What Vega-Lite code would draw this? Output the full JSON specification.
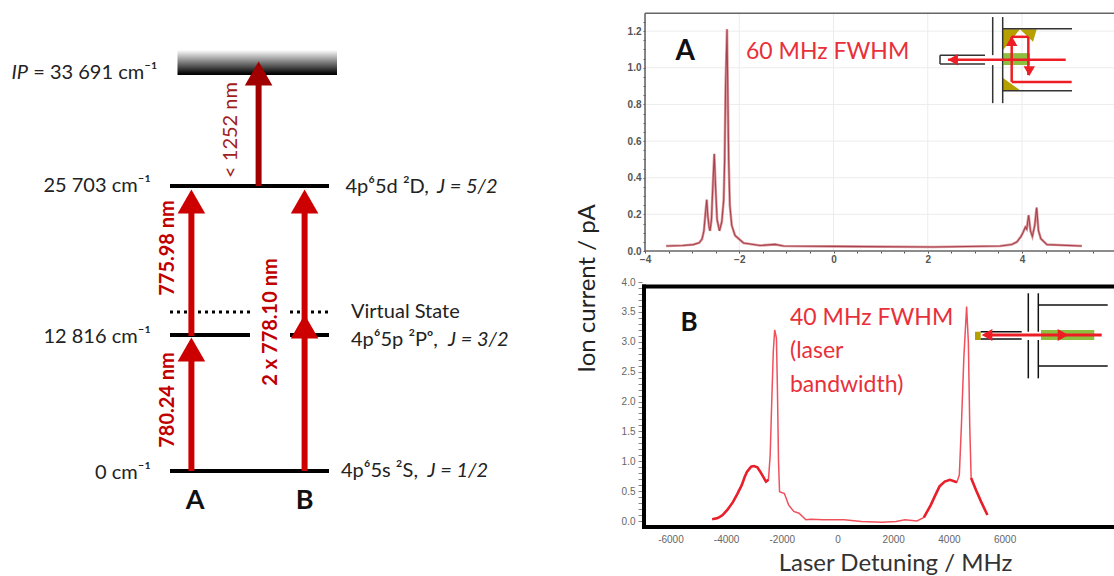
{"$schema":"https://vega.github.io/schema/vega-lite/v6.json","padding":0,"background":"white","bounds":"flush","spacing":0,"config":{"view":{"stroke":null},"text":{"font":"Lato"},"axis":{"labelFont":"Liberation Sans","titleFont":"Lato"}},
"datasets":{
"specA":[{"x":-3.55,"y":0.027},{"x":-3.2,"y":0.03},{"x":-2.97,"y":0.035},{"x":-2.85,"y":0.045},{"x":-2.79,"y":0.065},{"x":-2.75,"y":0.11},{"x":-2.72,"y":0.2},{"x":-2.69,"y":0.28},{"x":-2.67,"y":0.2},{"x":-2.64,"y":0.13},{"x":-2.62,"y":0.11},{"x":-2.59,"y":0.17},{"x":-2.56,"y":0.36},{"x":-2.53,"y":0.53},{"x":-2.5,"y":0.33},{"x":-2.47,"y":0.17},{"x":-2.42,"y":0.11},{"x":-2.37,"y":0.16},{"x":-2.33,"y":0.28},{"x":-2.31,"y":0.5},{"x":-2.29,"y":0.9},{"x":-2.26,"y":1.21},{"x":-2.245,"y":0.9},{"x":-2.225,"y":0.5},{"x":-2.2,"y":0.25},{"x":-2.16,"y":0.14},{"x":-2.09,"y":0.085},{"x":-1.91,"y":0.044},{"x":-1.56,"y":0.03},{"x":-1.24,"y":0.036},{"x":-1.06,"y":0.027},{"x":0,"y":0.025},{"x":2.12,"y":0.022},{"x":3.54,"y":0.027},{"x":3.78,"y":0.035},{"x":3.89,"y":0.049},{"x":3.98,"y":0.08},{"x":4.02,"y":0.1},{"x":4.07,"y":0.13},{"x":4.1,"y":0.12},{"x":4.14,"y":0.195},{"x":4.18,"y":0.11},{"x":4.22,"y":0.08},{"x":4.27,"y":0.14},{"x":4.31,"y":0.237},{"x":4.35,"y":0.11},{"x":4.4,"y":0.067},{"x":4.53,"y":0.035},{"x":5.27,"y":0.027}],
"specB":[{"x":-4498,"y":0.03,"w":"a"},{"x":-4300,"y":0.05,"w":"a"},{"x":-4125,"y":0.1,"w":"a"},{"x":-3950,"y":0.19,"w":"a"},{"x":-3751,"y":0.32,"w":"a"},{"x":-3600,"y":0.45,"w":"a"},{"x":-3439,"y":0.6,"w":"a"},{"x":-3330,"y":0.74,"w":"a"},{"x":-3252,"y":0.82,"w":"a"},{"x":-3103,"y":0.91,"w":"a"},{"x":-3000,"y":0.92,"w":"a"},{"x":-2878,"y":0.9,"w":"a"},{"x":-2780,"y":0.83,"w":"a"},{"x":-2692,"y":0.76,"w":"a"},{"x":-2567,"y":0.66,"w":"a"},{"x":-2480,"y":0.69,"w":"a"},{"x":-2417,"y":1.1},{"x":-2368,"y":1.89},{"x":-2305,"y":2.84},{"x":-2255,"y":3.2},{"x":-2193,"y":3.06},{"x":-2156,"y":2.17},{"x":-2118,"y":1.0},{"x":-2081,"y":0.49},{"x":-1907,"y":0.46},{"x":-1757,"y":0.27},{"x":-1570,"y":0.16},{"x":-1383,"y":0.13},{"x":-1134,"y":0.02},{"x":-947,"y":0.03},{"x":-511,"y":0.02},{"x":237,"y":0.02},{"x":860,"y":-0.01},{"x":1607,"y":-0.02},{"x":2106,"y":-0.01},{"x":2417,"y":0.02},{"x":2854,"y":0},{"x":3103,"y":0.06,"w":"b"},{"x":3352,"y":0.27,"w":"b"},{"x":3500,"y":0.42,"w":"b"},{"x":3664,"y":0.58,"w":"b"},{"x":3850,"y":0.66,"w":"b"},{"x":4037,"y":0.69,"w":"b"},{"x":4287,"y":0.65,"w":"b"},{"x":4374,"y":0.77},{"x":4449,"y":1.6},{"x":4536,"y":2.73},{"x":4636,"y":3.59},{"x":4698,"y":3.0},{"x":4748,"y":1.6},{"x":4798,"y":0.72,"w":"c"},{"x":4972,"y":0.52,"w":"c"},{"x":5159,"y":0.32,"w":"c"},{"x":5383,"y":0.1,"w":"c"}]
},
"hconcat":[
{"width":642,"height":576,
"encoding":{"x":{"field":"x","type":"quantitative","scale":{"domain":[0,642]},"axis":null},"y":{"field":"y","type":"quantitative","scale":{"domain":[576,0]},"axis":null}},
"layer":[
{"data":{"values":[{"x":177.5,"x2":337,"y":50,"y2":75}]},"mark":{"type":"rect","color":{"x1":0,"y1":0,"x2":0,"y2":1,"gradient":"linear","stops":[{"offset":0,"color":"#ffffff"},{"offset":0.9,"color":"#111111"},{"offset":1,"color":"#000000"}]}},"encoding":{"x2":{"field":"x2"},"y2":{"field":"y2"}}},
{"data":{"values":[{"x":170,"x2":329,"y":186,"y2":186},{"x":170,"x2":250,"y":335,"y2":335},{"x":290,"x2":329,"y":335,"y2":335},{"x":170,"x2":329,"y":471,"y2":471}]},"mark":{"type":"rule","color":"#000000","strokeWidth":4},"encoding":{"x2":{"field":"x2"},"y2":{"field":"y2"}}},
{"data":{"values":[{"x":170,"x2":250,"y":312,"y2":312},{"x":290,"x2":329,"y":312,"y2":312}]},"mark":{"type":"rule","color":"#000000","strokeWidth":3,"strokeDash":[3,4]},"encoding":{"x2":{"field":"x2"},"y2":{"field":"y2"}}},
{"data":{"values":[{"x":258.6,"x2":258.6,"y":186,"y2":80}]},"mark":{"type":"rule","color":"#a00000","strokeWidth":6},"encoding":{"x2":{"field":"x2"},"y2":{"field":"y2"}}},
{"data":{"values":[{"x":258.6,"y":73.5}]},"mark":{"type":"point","shape":"triangle-up","filled":true,"size":760,"opacity":1,"color":"#a00000"}},
{"data":{"values":[{"x":191.4,"x2":191.4,"y":471,"y2":350},{"x":191.4,"x2":191.4,"y":336,"y2":205},{"x":304.6,"x2":304.6,"y":471,"y2":205}]},"mark":{"type":"rule","color":"#cc0000","strokeWidth":6},"encoding":{"x2":{"field":"x2"},"y2":{"field":"y2"}}},
{"data":{"values":[{"x":191.4,"y":201.5},{"x":191.4,"y":349.5},{"x":304.6,"y":201.5},{"x":304.6,"y":326.5}]},"mark":{"type":"point","shape":"triangle-up","filled":true,"size":760,"opacity":1,"color":"#cc0000"}},
{"data":{"values":[{"x":157.5,"y":73,"t":"= 33 691 cm⁻¹"},{"x":151,"y":186,"t":"25 703 cm⁻¹"},{"x":151,"y":337,"t":"12 816 cm⁻¹"},{"x":151,"y":473,"t":"0 cm⁻¹"}]},"mark":{"type":"text","align":"right","baseline":"middle","fontSize":20,"color":"#222222"},"encoding":{"text":{"field":"t"}}},
{"data":{"values":[{"x":345.5,"y":187,"t":"4p⁶5d ²D,"},{"x":351,"y":312,"t":"Virtual State"},{"x":351,"y":340,"t":"4p⁶5p ²Pᵒ,"},{"x":341,"y":471,"t":"4p⁶5s ²S,"}]},"mark":{"type":"text","align":"left","baseline":"middle","fontSize":20,"color":"#222222"},"encoding":{"text":{"field":"t"}}},
{"data":{"values":[{"x":11.5,"y":73,"t":"IP"},{"x":437,"y":187,"t":"J = 5/2"},{"x":448,"y":340,"t":"J = 3/2"},{"x":427.5,"y":471,"t":"J = 1/2"}]},"mark":{"type":"text","align":"left","baseline":"middle","fontSize":20,"fontStyle":"italic","color":"#222222"},"encoding":{"text":{"field":"t"}}},
{"data":{"values":[{"x":195,"y":501,"t":"A"},{"x":304.6,"y":501,"t":"B"}]},"mark":{"type":"text","align":"center","baseline":"middle","fontSize":27,"fontWeight":"bold","color":"#111111"},"encoding":{"text":{"field":"t"}}},
{"data":{"values":[{"x":231,"y":130,"t":"< 1252 nm"}]},"mark":{"type":"text","align":"center","baseline":"middle","angle":270,"fontSize":20,"color":"#a02020"},"encoding":{"text":{"field":"t"}}},
{"data":{"values":[{"x":168,"y":248,"t":"775.98 nm"},{"x":168,"y":400,"t":"780.24 nm"},{"x":271,"y":322,"t":"2 x 778.10 nm"}]},"mark":{"type":"text","align":"center","baseline":"middle","angle":270,"fontSize":20,"fontWeight":"bold","color":"#c00000"},"encoding":{"text":{"field":"t"}}}
]},
{"bounds":"flush","spacing":31,"vconcat":[
{"width":472,"height":251,
"encoding":{"x":{"field":"x","type":"quantitative","scale":{"domain":[-4.064,5.952],"nice":false,"zero":false},"axis":{"title":null,"domain":false,"grid":false,"values":[-4,-3.5,-3,-2.5,-2,-1.5,-1,-0.5,0,0.5,1,1.5,2,2.5,3,3.5,4,4.5,5,5.5],"labelExpr":"datum.value % 2 === 0 ? format(datum.value,'d') : ''","tickSize":2,"tickColor":"#555555","labelPadding":1,"labelFontSize":10,"labelFontWeight":"bold","labelColor":"#555555"}},
"y":{"field":"y","type":"quantitative","scale":{"domain":[0,1.37],"nice":false},"axis":{"title":null,"domain":false,"grid":false,"offset":-3,"values":[0,0.05,0.1,0.15,0.2,0.25,0.3,0.35,0.4,0.45,0.5,0.55,0.6,0.65,0.7,0.75,0.8,0.85,0.9,0.95,1,1.05,1.1,1.15,1.2,1.25],"labelExpr":"abs(datum.value*5-round(datum.value*5))<0.01 ? format(datum.value,'.1f') : ''","tickSize":2,"tickColor":"#555555","labelPadding":2,"labelFontSize":10,"labelFontWeight":"bold","labelColor":"#555555"}}},
"layer":[
{"data":{"values":[{"x":-2,"x2":-2,"y":0,"y2":1.298},{"x":0,"x2":0,"y":0,"y2":1.298},{"x":2,"x2":2,"y":0,"y2":1.298},{"x":4,"x2":4,"y":0,"y2":1.298},{"x":-4,"x2":5.952,"y":0.2,"y2":0.2},{"x":-4,"x2":5.952,"y":0.4,"y2":0.4},{"x":-4,"x2":5.952,"y":0.6,"y2":0.6},{"x":-4,"x2":5.952,"y":0.8,"y2":0.8},{"x":-4,"x2":5.952,"y":1,"y2":1},{"x":-4,"x2":5.952,"y":1.2,"y2":1.2}]},"mark":{"type":"rule","color":"#ececec","strokeWidth":1},"encoding":{"x2":{"field":"x2"},"y2":{"field":"y2"}}},
{"data":{"values":[{"x":-4,"x2":-4,"y":0,"y2":1.298},{"x":-4,"x2":5.952,"y":1.298,"y2":1.298},{"x":-4,"x2":5.952,"y":0,"y2":0}]},"mark":{"type":"rule","color":"#666666","strokeWidth":1.6},"encoding":{"x2":{"field":"x2"},"y2":{"field":"y2"}}},
{"data":{"name":"specA"},"mark":{"type":"line","color":"#dc9a9f","strokeWidth":2.6}},
{"data":{"name":"specA"},"mark":{"type":"line","color":"#a8434e","strokeWidth":1.1}},
{"data":{"values":[{"x":3.597,"y":1.211,"y2":1.097,"g":"a"},{"x":3.958,"y":1.211,"y2":1.211,"g":"a"},{"x":3.958,"y":1.211,"y2":1.211,"g":"b"},{"x":4.233,"y":1.211,"y2":1.142,"g":"b"},{"x":4.312,"y":1.211,"y2":1.211,"g":"b"},{"x":3.597,"y":0.944,"y2":0.878,"g":"c"},{"x":3.958,"y":0.878,"y2":0.878,"g":"c"}]},"mark":{"type":"area","color":"#b5a000"},"encoding":{"y2":{"field":"y2"},"detail":{"field":"g"}}},
{"data":{"values":[{"x":3.603,"x2":4.17,"y":1.08,"y2":1.015}]},"mark":{"type":"rect","color":"#8fbf3f"},"encoding":{"x2":{"field":"x2"},"y2":{"field":"y2"}}},
{"data":{"values":[{"x":3.378,"x2":3.378,"y":1.277,"y2":1.069},{"x":3.378,"x2":3.378,"y":1.015,"y2":0.807},{"x":3.59,"x2":3.59,"y":1.277,"y2":0.807},{"x":3.59,"x2":5.061,"y":1.213,"y2":1.213},{"x":3.59,"x2":5.061,"y":0.874,"y2":0.874},{"x":2.26,"x2":3.215,"y":1.068,"y2":1.068},{"x":2.26,"x2":3.215,"y":1.02,"y2":1.02},{"x":2.26,"x2":2.26,"y":1.068,"y2":1.02}]},"mark":{"type":"rule","color":"#333333","strokeWidth":1.5},"encoding":{"x2":{"field":"x2"},"y2":{"field":"y2"}}},
{"data":{"values":[{"x":2.43,"x2":4.927,"y":1.044,"y2":1.044},{"x":5.054,"x2":3.781,"y":0.923,"y2":0.923},{"x":3.781,"x2":3.781,"y":0.923,"y2":1.169},{"x":3.781,"x2":4.134,"y":1.169,"y2":1.169},{"x":4.134,"x2":4.134,"y":1.169,"y2":0.96}]},"mark":{"type":"rule","color":"#ee1c25","strokeWidth":2.5},"encoding":{"x2":{"field":"x2"},"y2":{"field":"y2"}}},
{"data":{"values":[{"x":2.536,"y":1.044}]},"mark":{"type":"point","shape":"triangle-left","filled":true,"opacity":1,"size":130,"color":"#ee1c25"}},
{"data":{"values":[{"x":3.781,"y":1.146}]},"mark":{"type":"point","shape":"triangle-up","filled":true,"opacity":1,"size":130,"color":"#ee1c25"}},
{"data":{"values":[{"x":4.155,"y":0.982}]},"mark":{"type":"point","shape":"triangle-down","filled":true,"opacity":1,"size":130,"color":"#ee1c25"}},
{"data":{"values":[{"x":-3.149,"y":1.086,"t":"A"}]},"mark":{"type":"text","align":"center","baseline":"middle","fontSize":28,"fontWeight":"bold","color":"#111111"},"encoding":{"text":{"field":"t"}}},
{"data":{"values":[{"x":-1.857,"y":1.086,"t":"60 MHz FWHM"}]},"mark":{"type":"text","align":"left","baseline":"middle","fontSize":23,"color":"#e8303a"},"encoding":{"text":{"field":"t"}}}
]},
{"width":472,"height":246,
"encoding":{"x":{"field":"x","type":"quantitative","scale":{"domain":[-7020,9928],"nice":false,"zero":false},"axis":{"title":"Laser Detuning / MHz","titleX":253,"titleY":35,"titleBaseline":"middle","titleFontSize":24,"titleFontWeight":"normal","titleColor":"#333333","domain":false,"grid":false,"ticks":false,"values":[-6000,-4000,-2000,0,2000,4000,6000],"labelExpr":"replace(format(datum.value,'d'),'−','-')","labelPadding":6,"labelFontSize":10,"labelColor":"#666666"}},
"y":{"field":"y","type":"quantitative","scale":{"domain":[-0.117,4],"nice":false,"zero":false},"axis":{"title":"Ion current / pA","titleX":-55,"titleY":6,"titleAngle":270,"titleAlign":"center","titleBaseline":"middle","titleFontSize":24,"titleFontWeight":"normal","titleColor":"#222222","domain":false,"grid":false,"values":[0,0.1,0.2,0.3,0.4,0.5,0.6,0.7,0.8,0.9,1,1.1,1.2,1.3,1.4,1.5,1.6,1.7,1.8,1.9,2,2.1,2.2,2.3,2.4,2.5,2.6,2.7,2.8,2.9,3,3.1,3.2,3.3,3.4,3.5,3.6,3.7,3.8,3.9,4],"labelExpr":"abs(datum.value*2-round(datum.value*2))<0.01 ? format(datum.value,'.1f') : ''","tickSize":4,"tickColor":"#888888","labelPadding":3,"labelFontSize":10,"labelColor":"#666666"}}},
"layer":[
{"data":{"name":"specB"},"mark":{"type":"line","color":"#f0505c","strokeWidth":1.5}},
{"data":{"name":"specB"},"transform":[{"filter":"isValid(datum.w)"}],"mark":{"type":"line","color":"#e8202c","strokeWidth":2.6},"encoding":{"detail":{"field":"w"}}},
{"data":{"values":[{"x":-6948,"x2":-6948,"y":-0.1,"y2":3.925},{"x":-6948,"x2":9860,"y":3.925,"y2":3.925},{"x":-6948,"x2":9860,"y":-0.1,"y2":-0.1}]},"mark":{"type":"rule","color":"#000000","strokeWidth":4,"strokeCap":"square"},"encoding":{"x2":{"field":"x2"},"y2":{"field":"y2"}}},
{"data":{"values":[{"x":4937,"x2":5142,"y":3.168,"y2":3.029}]},"mark":{"type":"rect","color":"#b5a000"},"encoding":{"x2":{"field":"x2"},"y2":{"field":"y2"}}},
{"data":{"values":[{"x":7307,"x2":9221,"y":3.197,"y2":3.029}]},"mark":{"type":"rect","color":"#8fbf3f"},"encoding":{"x2":{"field":"x2"},"y2":{"field":"y2"}}},
{"data":{"values":[{"x":6851,"x2":6851,"y":3.811,"y2":3.168},{"x":6851,"x2":6851,"y":3.029,"y2":2.388},{"x":7210,"x2":7210,"y":3.811,"y2":3.168},{"x":7210,"x2":7210,"y":3.029,"y2":2.388},{"x":7210,"x2":9702,"y":3.615,"y2":3.615},{"x":7210,"x2":9702,"y":2.594,"y2":2.594},{"x":5142,"x2":6614,"y":3.168,"y2":3.168},{"x":5142,"x2":6614,"y":3.046,"y2":3.046}]},"mark":{"type":"rule","color":"#111111","strokeWidth":1.5},"encoding":{"x2":{"field":"x2"},"y2":{"field":"y2"}}},
{"data":{"values":[{"x":5296,"x2":9487,"y":3.113,"y2":3.113}]},"mark":{"type":"rule","color":"#ee1c25","strokeWidth":3},"encoding":{"x2":{"field":"x2"},"y2":{"field":"y2"}}},
{"data":{"values":[{"x":5368,"y":3.113}]},"mark":{"type":"point","shape":"triangle-left","filled":true,"opacity":1,"size":150,"color":"#ee1c25"}},
{"data":{"values":[{"x":8097,"y":3.113}]},"mark":{"type":"point","shape":"triangle-right","filled":true,"opacity":1,"size":150,"color":"#ee1c25"}},
{"data":{"values":[{"x":-5332,"y":3.314,"t":"B"}]},"mark":{"type":"text","align":"center","baseline":"middle","fontSize":26,"fontWeight":"bold","color":"#111111"},"encoding":{"text":{"field":"t"}}},
{"data":{"values":[{"x":-1706,"y":3.397,"t":"40 MHz FWHM"},{"x":-1706,"y":2.845,"t":"(laser"},{"x":-1706,"y":2.276,"t":"bandwidth)"}]},"mark":{"type":"text","align":"left","baseline":"middle","fontSize":23,"color":"#e8303a"},"encoding":{"text":{"field":"t"}}}
]}
]}
]}
